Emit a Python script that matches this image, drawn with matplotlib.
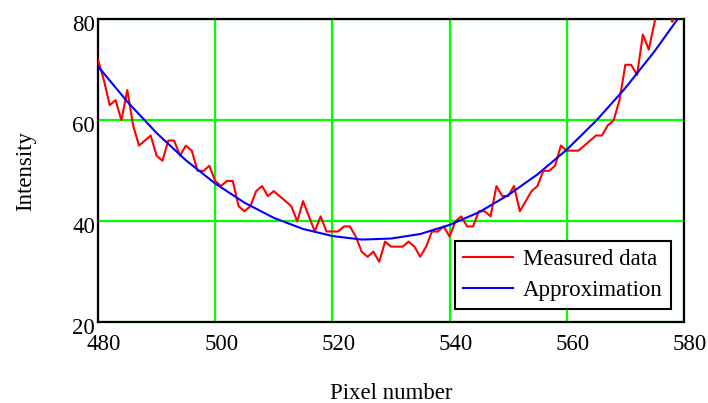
import numpy as np
import matplotlib
matplotlib.use("Agg")
import matplotlib.pyplot as plt
import matplotlib.transforms as mtransforms

plt.rcParams['font.family'] = ['Liberation Serif', 'DejaVu Serif']

# measured intensity, one value per pixel 480..580
pixel = np.arange(480, 581)
measured = [72, 68, 63, 64, 60, 66, 59, 55, 56, 57,
            53, 52, 56, 56, 53, 55, 54, 50, 50, 51,
            48, 47, 48, 48, 43, 42, 43, 46, 47, 45,
            46, 45, 44, 43, 40, 44, 41, 38, 41, 38,
            38, 38, 39, 39, 37, 34, 33, 34, 32, 36,
            35, 35, 35, 36, 35, 33, 35, 38, 38, 39,
            37, 40, 41, 39, 39, 42, 42, 41, 47, 45,
            45, 47, 42, 44, 46, 47, 50, 50, 51, 55,
            54, 54, 54, 55, 56, 57, 57, 59, 60, 64,
            71, 71, 69, 77, 74, 79.5, 83, 83, 79.5, 82,
            84]

# approximation curve read every 5 pixels
approx_x = np.arange(480, 581, 5)
approx_y = [70.7, 63.7, 57.5, 52.1, 47.5, 43.7, 40.7, 38.5, 37.1, 36.4,
            36.6, 37.5, 39.3, 41.8, 45.2, 49.3, 54.2, 59.9, 66.4, 73.7,
            81.8]

xticks = [480, 500, 520, 540, 560, 580]
yticks = [20, 40, 60, 80]

fs = 16.5

fig = plt.figure(figsize=(7.08, 4.03), dpi=100)
ax = fig.add_axes([0.1384, 0.2, 0.8276, 0.752])

ax.plot(pixel, measured, color='#ff0000', lw=1.5, label='Measured data', zorder=3)
ax.plot(approx_x, approx_y, color='#0000ff', lw=1.5, label='Approximation', zorder=3)

ax.set_xlim(480, 580)
ax.set_ylim(20, 80)
ax.set_xticks(xticks)
ax.set_yticks(yticks)
ax.grid(True, color='#00ff00', lw=1.6)
ax.set_axisbelow(True)
ax.tick_params(length=0, labelsize=fs, pad=2)
for s in ax.spines.values():
    s.set_linewidth(1.6)
    s.set_color('black')

dx = mtransforms.ScaledTranslation(0.06, -0.09, fig.dpi_scale_trans)
for lab in ax.get_xticklabels():
    lab.set_transform(lab.get_transform() + dx)
dy = mtransforms.ScaledTranslation(0, -0.04, fig.dpi_scale_trans)
for lab in ax.get_yticklabels():
    lab.set_transform(lab.get_transform() + dy)

ax.set_xlabel('Pixel number', fontsize=fs, labelpad=20)
ax.set_ylabel('Intensity', fontsize=fs, labelpad=26)

leg = ax.legend(loc='lower right', bbox_to_anchor=(0.978, 0.044), fontsize=fs,
                frameon=True, fancybox=False, framealpha=1, edgecolor='black',
                handlelength=2.2, handletextpad=0.45, borderpad=0.35,
                labelspacing=0.45, borderaxespad=0)
leg.get_frame().set_linewidth(1.5)

fig.savefig('out.png', dpi=100)
